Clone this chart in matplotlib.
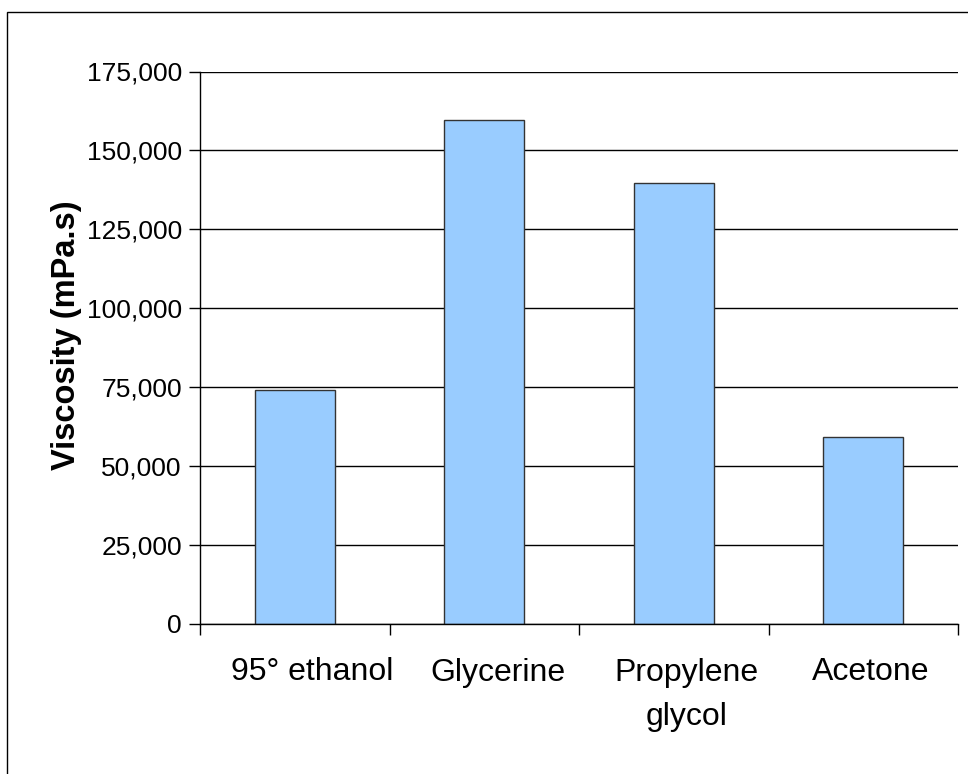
import matplotlib
matplotlib.use("Agg")
import matplotlib.pyplot as plt
from matplotlib.patches import Rectangle
from matplotlib.transforms import ScaledTranslation
from matplotlib.ticker import FuncFormatter, FixedLocator, NullFormatter

categories = ["95° ethanol", "Glycerine", "Propylene\nglycol", "Acetone"]
viscosity = [74000, 159500, 139500, 59200]
y_ticks = [0, 25000, 50000, 75000, 100000, 125000, 150000, 175000]

plt.rcParams["font.family"] = ["Liberation Sans", "DejaVu Sans"]

fig = plt.figure(figsize=(9.68, 7.74), dpi=100)
W, H = 968, 774

# chart frame (extends past the right and bottom edges)
fig.patches.append(Rectangle((7.3 / W, -0.05), 1.1, 1 - 11.7 / H + 0.05,
                             transform=fig.transFigure, fill=False,
                             edgecolor="black", linewidth=1.0))

left, right, top, bottom = 200 / W, 958 / W, 71.5 / H, 623.5 / H
ax = fig.add_axes([left, 1 - bottom, right - left, bottom - top])

x = list(range(len(categories)))
ax.bar(x, viscosity, width=0.42, color="#99CCFF", edgecolor="#333333",
       linewidth=1.0, zorder=3)

ax.set_xlim(-0.5, len(categories) - 0.5)
ax.set_ylim(0, 175000)
ax.set_yticks(y_ticks)
ax.yaxis.set_major_formatter(FuncFormatter(lambda v, p: f"{int(v):,}"))
ax.grid(axis="y", color="black", linewidth=1.0, zorder=1)

# ticks at category boundaries
ax.xaxis.set_major_locator(FixedLocator([i - 0.5 for i in range(len(categories) + 1)]))
ax.xaxis.set_major_formatter(NullFormatter())
ax.tick_params(axis="x", which="major", direction="out", length=8, width=1.0, color="black")
ax.tick_params(axis="y", direction="out", length=8, width=1.0, labelsize=19, pad=5)

# category names below the axis, nudged slightly right of each bar centre
label_shift_px = [17, 14, 13, 7]
base = ax.get_xaxis_transform()
for xi, name, dx in zip(x, categories, label_shift_px):
    tr = base + ScaledTranslation(dx / fig.dpi, -34 / fig.dpi, fig.dpi_scale_trans)
    ax.text(xi, 0, name, transform=tr, ha="center", va="top",
            fontsize=23, linespacing=1.65, clip_on=False)

for side in ("top", "right"):
    ax.spines[side].set_visible(False)
for side in ("left", "bottom"):
    ax.spines[side].set_linewidth(1.0)
    ax.spines[side].set_zorder(4)

ax.set_ylabel("Viscosity (mPa.s)", fontsize=23.5, fontweight="bold")
ax.yaxis.set_label_coords(-0.156, 0.523)

fig.savefig("out.png", dpi=100)
